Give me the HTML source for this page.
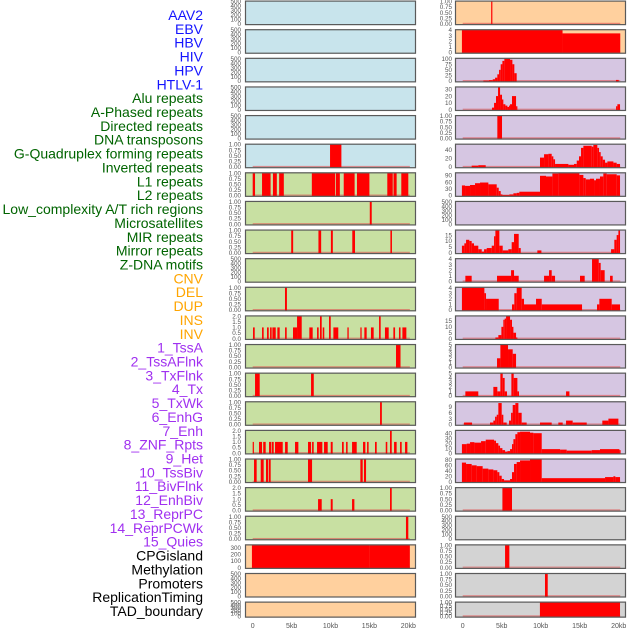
<!DOCTYPE html>
<html><head><meta charset="utf-8"><style>
html,body{margin:0;padding:0;background:#fff;}
svg{display:block;font-family:"Liberation Sans",sans-serif;}
</style></head><body>
<svg id="chart" width="630" height="630" viewBox="0 0 630 630" xmlns="http://www.w3.org/2000/svg">
<g id="labels"></g>
<g id="panels"></g>
<g id="xaxes"></g>
</svg>
<script>
const trackLabels=["AAV2","EBV","HBV","HIV","HPV","HTLV-1","Alu repeats","A-Phased repeats","Directed repeats","DNA transposons","G-Quadruplex forming repeats","Inverted repeats","L1 repeats","L2 repeats","Low_complexity A/T rich regions","Microsatellites","MIR repeats","Mirror repeats","Z-DNA motifs","CNV","DEL","DUP","INS","INV","1_TssA","2_TssAFlnk","3_TxFlnk","4_Tx","5_TxWk","6_EnhG","7_Enh","8_ZNF_Rpts","9_Het","10_TssBiv","11_BivFlnk","12_EnhBiv","13_ReprPC","14_ReprPCWk","15_Quies","CPGisland","Methylation","Promoters","ReplicationTiming","TAD_boundary"];
const labelGroups=[6,13,5,15,5];
const xTickLabels=["0","5kb","10kb","15kb","20kb"];
const xTickValues=[0,5,10,15,20];

const T500=["0","100","200","300","400","500"],T1=["0.00","0.25","0.50","0.75","1.00"],T2=["0.0","0.5","1.0","1.5","2.0"];
const leftTicks=[T500,T500,T500,T500,T500,T1,T1,T1,T1,T500,T1,T2,T1,T1,T1,T2,T1,T2,T1,["0","100","200","300"],T500,T500];
const leftMax=[500,500,500,500,500,1,1,1,1,500,1,2,1,1,1,2,1,2,1,340,500,500];
const leftData=[
[],[],[],[],[],
[[9.94,11.4,1]],
[[0,0.3,1],[1.2,2.3,1],[2.6,3.1,1],[3.4,4.0,1],[7.6,10.6,1],[10.7,11.2,1],[11.7,13.1,1],[13.4,15.0,1],[17.3,18.0,1],[18.1,18.5,1],[19.1,20.0,1]],
[[15.05,15.3,1]],
[[4.95,5.2,1],[8.45,8.8,1],[10.05,10.3,1],[12.8,13.15,1],[17.7,17.9,1]],
[],
[[4.15,4.4,1]],
[[0.04,0.26,1],[1.2,1.41,1],[1.84,2.06,1],[2.23,2.44,1],[2.53,2.96,1],[3.17,3.47,1],[4.16,4.37,1],[5.18,5.7,1],[5.7,6.08,2],[6.08,6.3,2],[7.28,7.71,1],[8.27,8.48,1],[8.65,8.87,2],[9.0,9.2,1],[9.81,10.03,2],[10.37,11.0,1],[12.17,12.34,1],[13.84,14.0,1],[14.35,14.65,1],[15.2,15.55,1],[16.24,16.45,2],[17.0,17.48,1],[18.08,18.3,1],[18.8,19.0,1],[19.24,19.75,1]],
[[18.42,19.0,1]],
[[0.3,0.9,1],[7.5,7.85,1]],
[[16.37,16.6,1]],
[[0,0.13,1],[0.81,1.2,1],[1.35,1.67,1],[2.1,2.36,1],[2.44,2.7,1],[2.87,3.86,1],[4.16,4.5,1],[5.44,5.87,1],[7.11,7.5,1],[7.63,7.84,1],[8.27,8.95,1],[9.17,9.64,1],[10.03,10.28,1],[11.48,11.7,1],[12.0,12.2,1],[12.77,13.37,1],[14.18,14.48,1],[14.7,14.9,1],[15.72,15.94,1],[17.1,17.3,1],[17.65,17.87,2],[18.17,18.5,1],[18.94,19.15,1],[19.58,19.88,1]],
[[0.17,0.51,1],[1.03,1.41,1],[1.71,1.97,1],[2.06,2.31,1],[7.11,7.63,1],[13.84,14.14,1],[14.3,14.57,1]],
[[8.4,8.87,1],[10.03,10.28,1],[12.77,13.07,1],[17.65,17.87,2]],
[[19.7,20.0,1]],
[[-0.1,15.0,340],[15.0,20.2,336]],
[],[]
];

const rightTicks=[T1,["0","1","2","3","4"],["0","25","50","75","100"],["0","10","20","30"],T1,["0","20","40"],["0","30","60","90"],T500,["0","5","10","15"],["0","1","2","3","4"],["0","1","2","3","4"],["0","5","10","15"],["0","1","2","3","4","5"],["0","1","2","3","4","5"],["0","3","6","9"],["0","10","20","30","40"],["0","20","40","60","80"],T1,T500,T1,T1,T1];
const rightMax=[1,4,100,33,1,53,100,500,19,4,4,19,5,5,11.5,45,82,1,500,1,1,1];
const rightData=[
[[3.65,3.8,1]],
[[-0.1,12.8,4],[12.8,20.2,3.4]],
[[2.65,3.38,2],[3.38,3.85,4],[3.85,4.15,8],[4.15,4.44,15],[4.44,4.66,30],[4.66,4.87,50],[4.87,5.09,75],[5.09,5.34,90],[5.34,6.07,100],[6.07,6.37,95],[6.37,6.62,75],[6.62,6.92,35],[19.65,20.0,5]],
[[3.76,4.02,3],[4.02,4.27,10],[4.27,4.53,20],[4.53,4.79,33],[4.79,5.04,22],[5.04,5.21,15],[5.21,5.47,8],[5.47,5.73,6],[5.73,5.94,4],[5.94,6.07,6],[6.07,6.32,8],[6.32,6.84,20],[6.84,7.01,5],[19.66,19.83,5],[19.83,20.17,8]],
[[4.44,5.04,1]],
[[1.15,2.0,3],[2.0,2.95,4],[9.91,10.43,22],[10.43,10.98,30],[10.98,11.41,31],[11.41,11.62,25],[11.62,11.84,18],[11.84,13.55,7],[13.55,14.27,5],[14.27,14.62,7],[14.62,14.91,15],[14.91,15.17,25],[15.17,15.47,45],[15.47,16.54,50],[16.54,16.75,48],[16.75,17.26,52],[17.26,17.48,45],[17.48,17.69,35],[17.69,17.95,25],[17.95,18.25,17],[18.25,18.55,10],[18.55,19.32,13],[19.32,19.74,10],[19.74,20.17,7]],
[[-0.1,0.3,45],[0.3,0.94,43],[0.94,1.58,47],[1.58,2.22,55],[2.22,3.29,58],[3.29,4.36,50],[4.36,4.62,35],[4.62,4.87,20],[4.87,5.09,5],[5.09,5.98,2],[5.98,6.5,5],[6.5,6.92,10],[6.92,7.26,12],[7.26,9.91,17],[9.91,10.68,88],[10.68,11.5,85],[11.5,12.26,98],[12.26,14.96,100],[14.96,15.47,92],[15.47,15.77,78],[15.77,16.32,72],[16.32,16.84,75],[16.84,17.09,68],[17.09,17.6,75],[17.6,18.03,85],[18.03,18.46,98],[18.46,19.74,95],[19.74,20.17,90]],
[],
[[-0.1,0.21,6],[0.21,0.43,8],[0.43,0.85,11],[0.85,1.15,10],[1.15,1.45,8],[1.45,2.0,6],[2.0,2.44,3],[2.44,2.74,1],[2.74,3.08,3],[3.08,3.72,4],[3.72,4.02,6],[4.02,4.19,14],[4.19,4.7,19],[4.7,5.13,6],[5.13,5.85,2],[5.85,6.28,3],[6.28,6.58,9],[6.58,7.18,16],[7.18,7.44,4],[9.57,10.09,2],[19.02,19.44,3],[19.44,19.74,11],[19.74,19.96,15],[19.96,20.17,19]],
[[0.34,1.15,1],[4.4,6.2,1],[6.2,6.58,2],[6.58,7.18,1],[10.43,11.07,1],[11.07,11.41,2],[11.41,11.84,1],[15.04,15.64,1],[16.58,17.44,4],[17.44,17.69,3.3],[17.69,18.2,2],[18.89,19.23,1]],
[[-0.1,2.78,4],[2.78,2.99,3],[2.99,4.62,2],[6.32,6.62,1],[6.62,6.92,3],[6.92,7.56,4],[7.56,7.86,2],[7.86,9.4,1],[9.4,10.13,2],[10.13,15.3,1],[17.22,17.52,1],[17.52,19.1,2],[19.1,20.17,1]],
[[4.19,4.57,1],[4.57,4.96,3],[4.96,5.21,10],[5.21,5.38,16],[5.38,5.56,17],[5.56,6.07,19],[6.07,6.32,16],[6.32,6.5,10],[6.5,6.84,5],[6.84,7.01,1]],
[[4.4,4.83,2],[4.83,5.81,5],[5.81,6.41,4],[6.41,6.84,3]],
[[0.34,2.0,1],[3.93,4.44,2],[4.44,4.83,1],[4.83,5.13,5],[5.13,5.38,4],[5.38,5.68,1],[6.24,6.54,5],[6.54,7.01,4],[7.01,7.22,1],[13.25,13.68,1]],
[[0.17,1.2,1],[3.5,3.93,1],[3.93,4.15,2],[4.15,4.36,4],[4.36,4.57,5],[4.57,5.0,11],[5.0,5.21,5],[5.21,5.64,1],[5.94,6.2,2],[6.2,6.41,6],[6.41,6.75,10],[6.75,7.14,11],[7.14,7.56,6],[7.56,8.2,1],[9.91,11.41,1],[12.26,12.82,1],[13.25,14.1,2],[14.1,15.9,1],[17.9,18.68,2],[18.68,19.96,3]],
[[-0.1,0.51,18],[0.51,0.94,19],[0.94,1.5,22],[1.5,2.35,21],[2.35,2.95,24],[2.95,4.02,27],[4.02,4.27,25],[4.27,4.57,20],[4.57,4.79,15],[4.79,5.09,10],[5.09,5.43,6],[5.43,5.73,3],[5.73,6.07,4],[6.07,6.32,8],[6.32,6.5,18],[6.5,6.75,28],[6.75,7.01,38],[7.01,7.35,42],[7.35,8.63,43],[8.63,9.06,41],[9.06,10.13,40],[10.13,12.48,8],[12.48,13.33,7],[13.33,16.54,5],[16.54,17.6,6],[17.6,20.09,8],[20.09,20.17,6]],
[[-0.1,0.43,70],[0.43,1.15,65],[1.15,1.79,60],[1.79,2.56,57],[2.56,3.29,48],[3.29,3.93,45],[3.93,4.44,42],[4.44,4.7,35],[4.7,5.0,22],[5.0,5.3,10],[5.3,6.07,5],[6.07,6.32,10],[6.32,6.58,35],[6.58,6.92,65],[6.92,7.35,72],[7.35,8.63,78],[8.63,10.13,82],[10.13,18.25,13],[18.25,19.32,17],[19.32,19.57,20],[19.57,20.17,17]],
[[5.09,6.32,1]],
[],
[[5.43,5.98,1]],
[[10.55,10.9,1]],
[[9.9,20.17,1]]
];

const NS="http://www.w3.org/2000/svg";
function mk(tag,attrs,parent){const e=document.createElementNS(NS,tag);for(const k in attrs)e.setAttribute(k,attrs[k]);parent.appendChild(e);return e;}

// labels
const labelColors=["#1414ff","#006400","#ffa500","#a030f0","#000000"];
const lg=document.getElementById("labels");
let gi=0,cnt=0;
trackLabels.forEach((t,i)=>{
  if(cnt>=labelGroups[gi]){gi++;cnt=0;}
  cnt++;
  const el=mk("text",{x:203,y:15+i*13.86+5,"text-anchor":"end","font-size":"14",fill:labelColors[gi]},lg);
  el.textContent=t;
  
  
});

const pg=document.getElementById("panels");
function panelColor(side,i){
  if(side==="L"){ if(i<=5) return "#c8e4ec"; if(i<=18) return "#c8e0a2"; return "#ffd09e"; }
  if(i<=1) return "#ffd09e"; if(i<=16) return "#d6c6e2"; return "#d3d3d3";
}
function drawColumn(side,data,ticks,maxes,px0,px1,x0,kbw,tickX){
  data.forEach((segs,i)=>{
    const top=0.6+i*28.62, h=(i===21)?16:24.5;
    const g=mk("g",{},pg);
    
    
    const bg=mk("rect",{x:px0,y:top,width:px1-px0,height:h,fill:panelColor(side,i)},g);
    
    
    const ybot=top+h-1.3, ytop=top+0.8, maxv=maxes[i];
    const ys=v=>ybot-(v/maxv)*(ybot-ytop);
    const xs=kb=>x0+kb*kbw;
    if(segs.length){
      const bl=mk("rect",{x:xs(0),y:ybot-1,width:xs(20.2)-xs(0),height:1.2,fill:"#e05050","fill-opacity":"0.6"},g);
      
      
    }
    segs.forEach(s=>{
      const a=Math.max(px0+1,xs(s[0])), b=xs(s[1]);
      const r=mk("rect",{x:a,y:ys(s[2]),width:Math.max(1.2,b-a),height:ybot-ys(s[2])+0.5,fill:"#ff0000"},g);
      
      
    });
    const br=mk("rect",{x:px0+0.5,y:top+0.5,width:px1-px0-1,height:h-1,fill:"none",stroke:"#5a5a5a","stroke-width":"1.2"},g);
    
    
    ticks[i].forEach(lab=>{
      const v=parseFloat(lab);
      const t=mk("text",{x:tickX,y:ys(v)+2.2,"text-anchor":"end","font-size":"6.3",fill:"#555"},g);
      t.textContent=lab;
      
      
    });
  });
  const xa=document.getElementById("xaxes");
  xTickValues.forEach((v,k)=>{
    const t=mk("text",{x:x0+v*kbw,y:628,"text-anchor":"middle","font-size":"7",fill:"#555"},xa);
    t.textContent=xTickLabels[k];
    
    
  });
}
drawColumn("L",leftData,leftTicks,leftMax,245,416,252.7,7.78,241);
drawColumn("R",rightData,rightTicks,rightMax,455,626,462.7,7.8,452);
</script>
</body></html>
